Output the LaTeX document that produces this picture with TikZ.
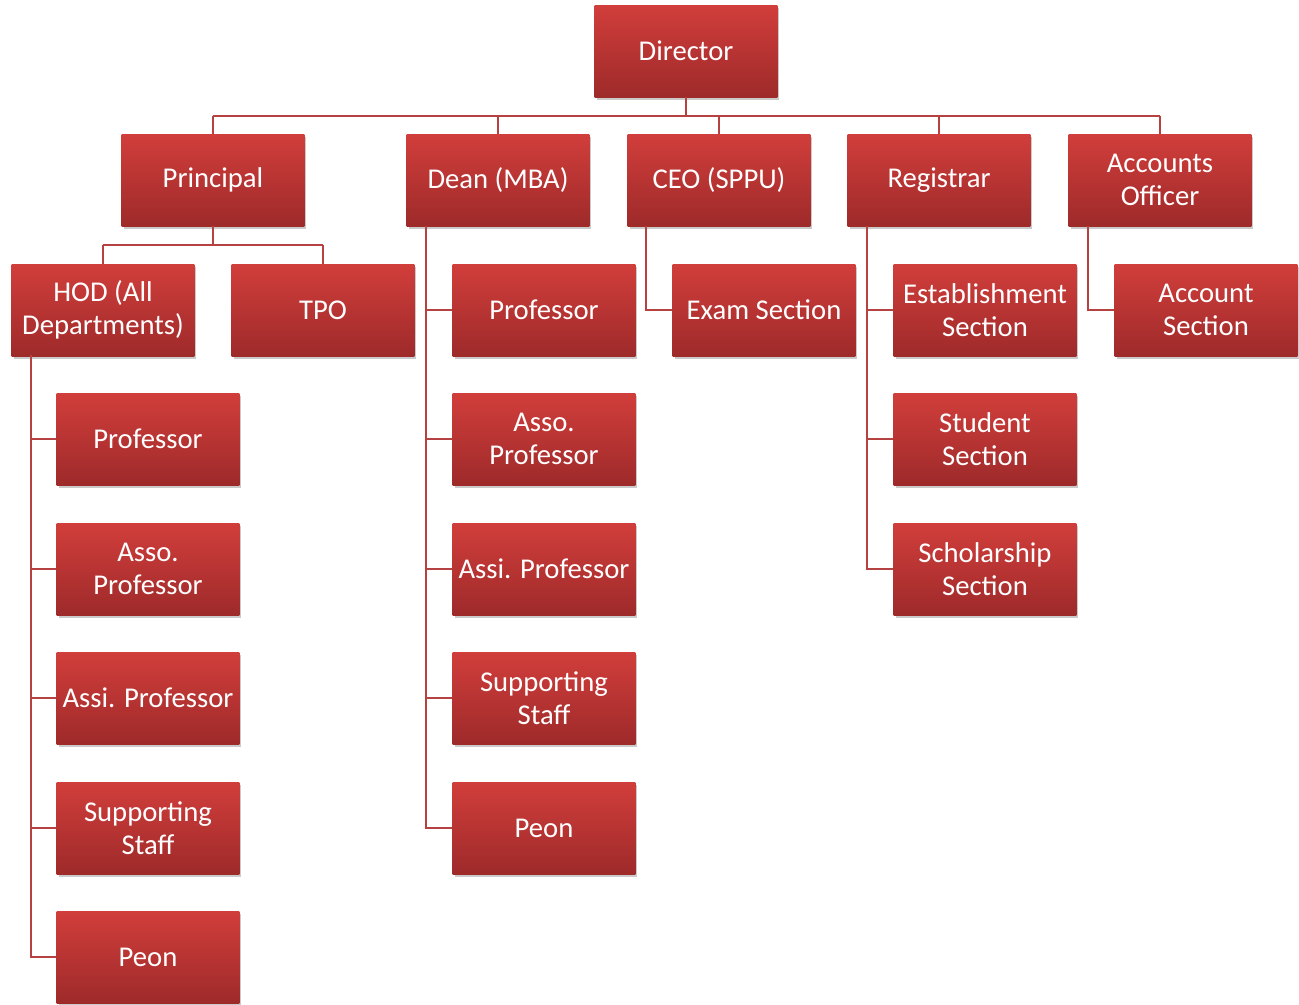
\documentclass[tikz,border=0pt]{standalone}
\usepackage{fontspec}
\setmainfont{Carlito}
\usetikzlibrary{shadows}
\definecolor{boxtop}{HTML}{D13E3B}
\definecolor{boxbot}{HTML}{9E2A2A}
\definecolor{linec}{HTML}{B54241}
\tikzset{
  box/.style={rectangle, minimum width=137pt, minimum height=69pt, inner sep=0pt,
    top color=boxtop, bottom color=boxbot, text=white, align=center,
    font=\fontsize{21.5}{24.75}\selectfont,
    drop shadow={shadow xshift=1.5pt, shadow yshift=-2.5pt, opacity=0.35, fill=black!60}},
  conn/.style={draw=linec, line width=1.6pt}
}
\begin{document}
\begin{tikzpicture}[x=0.75pt,y=-0.75pt]
\useasboundingbox (0,0) rectangle (1299,1004);
% row 0
\node[box] (dir) at (686,51) {Director};
% row 1
\node[box] (prin) at (213,180) {Principal};
\node[box] (dean) at (498,180) {Dean (MBA)};
\node[box] (ceo) at (719,180) {CEO (SPPU)};
\node[box] (reg) at (939,180) {Registrar};
\node[box] (acc) at (1160,180) {Accounts\\Officer};
% row 2
\node[box] (hod) at (103,310) {HOD (All\\Departments)};
\node[box] (tpo) at (323,310) {TPO};
\node[box] (dprof) at (544,310) {Professor};
\node[box] (exam) at (764,310) {Exam Section};
\node[box] (est) at (985,310) {Establishment\\Section};
\node[box] (accs) at (1206,310) {Account\\Section};
% HOD children
\node[box] (lprof) at (148,439) {Professor};
\node[box] (lasso) at (148,569) {Asso.\\Professor};
\node[box] (lassi) at (148,698) {Assi. Professor};
\node[box] (lsup) at (148,828) {Supporting\\Staff};
\node[box] (lpeon) at (148,957) {Peon};
% Dean children
\node[box] (dasso) at (544,439) {Asso.\\Professor};
\node[box] (dassi) at (544,569) {Assi. Professor};
\node[box] (dsup) at (544,698) {Supporting\\Staff};
\node[box] (dpeon) at (544,828) {Peon};
% Registrar children
\node[box] (stu) at (985,439) {Student\\Section};
\node[box] (sch) at (985,569) {Scholarship\\Section};

\begin{scope}[on background layer/.try]
\end{scope}
% connectors
\coordinate (bus) at (686,116);
\draw[conn] (dir.south) -- (bus);
\foreach \n in {prin,dean,ceo,reg,acc}{
  \draw[conn] (\n.north) -- (\n.north |- bus);
}
\draw[conn] (prin.north |- bus) -- (acc.north |- bus);
\coordinate (pbus) at (213,245);
\draw[conn] (prin.south) -- (pbus);
\draw[conn] (hod.north |- pbus) -- (tpo.north |- pbus);
\draw[conn] (hod.north |- pbus) -- (hod.north);
\draw[conn] (tpo.north |- pbus) -- (tpo.north);
% HOD spine
\coordinate (hx) at (31,355);
\draw[conn] (hx) -- (hx |- lpeon.west) -- (lpeon.west);
\foreach \n in {lprof,lasso,lassi,lsup}{\draw[conn] (hx |- \n.west) -- (\n.west);}
% Dean spine
\coordinate (dx) at (426,226);
\draw[conn] (dx) -- (dx |- dpeon.west) -- (dpeon.west);
\foreach \n in {dprof,dasso,dassi,dsup}{\draw[conn] (dx |- \n.west) -- (\n.west);}
% CEO
\coordinate (cx) at (646,226);
\draw[conn] (cx) -- (cx |- exam.west) -- (exam.west);
% Registrar
\coordinate (rx) at (867,226);
\draw[conn] (rx) -- (rx |- sch.west) -- (sch.west);
\foreach \n in {est,stu}{\draw[conn] (rx |- \n.west) -- (\n.west);}
% Accounts
\coordinate (ax) at (1088,226);
\draw[conn] (ax) -- (ax |- accs.west) -- (accs.west);
\end{tikzpicture}
\end{document}
